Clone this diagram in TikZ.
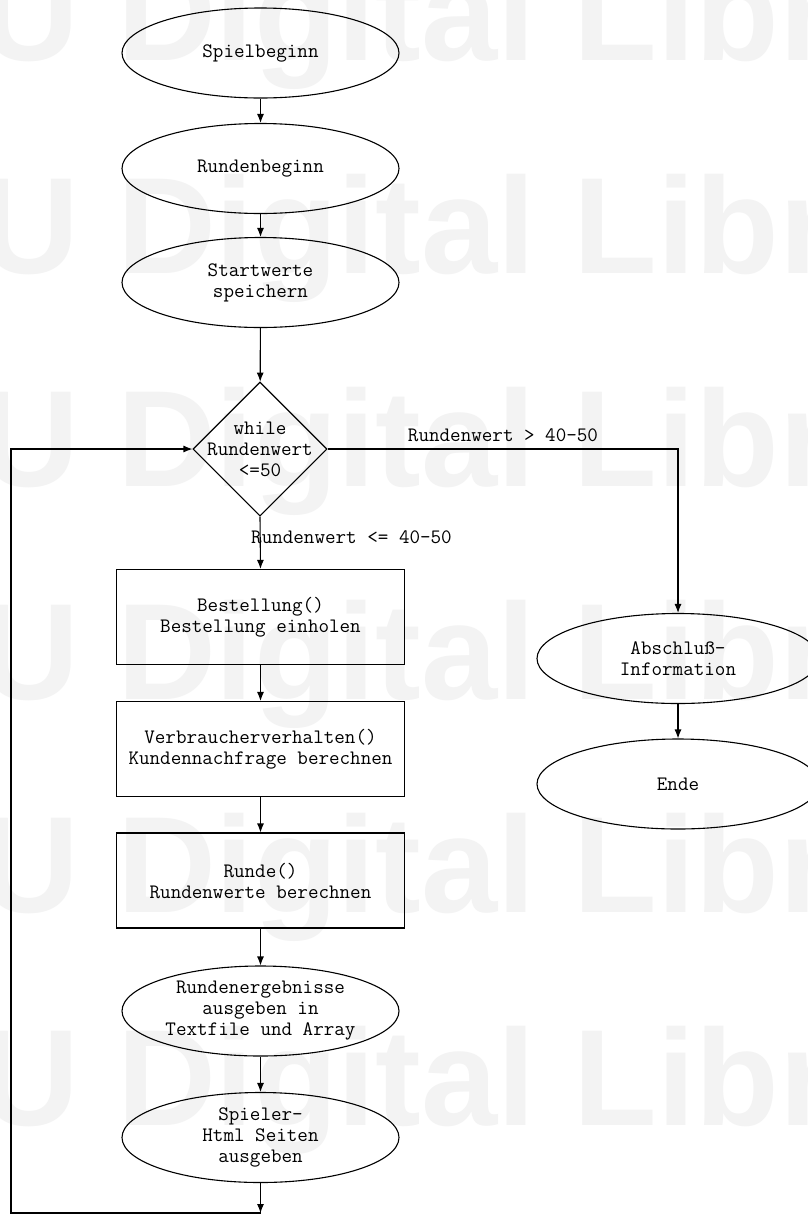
\documentclass[tikz,border=0pt]{standalone}
\usepackage{fontspec}
\newfontfamily\wmfont{Liberation Sans}
\usetikzlibrary{shapes.geometric,arrows.meta}
\definecolor{wm}{RGB}{243,243,243}
\tikzset{
  txt/.style={font=\ttfamily\fontsize{20.5}{21}\selectfont},
  ell/.style={draw, ellipse, minimum width=277pt, minimum height=90pt, inner sep=0pt, line width=1.1pt},
  procbox/.style={draw, rectangle, minimum width=288pt, minimum height=95pt, inner sep=0pt, align=center, line width=1.1pt, txt},
  dia/.style={draw, diamond, minimum width=134pt, minimum height=134pt, inner sep=0pt, line width=1.1pt},
  lab/.style={align=center, inner sep=0pt, txt},
  arr/.style={line width=1.1pt, -{Latex[length=9pt,width=7pt]}},
  wmark/.style={anchor=base west, inner sep=0pt, text=wm, font=\wmfont\bfseries\fontsize{137}{137}\selectfont}
}
\begin{document}
\begin{tikzpicture}[x=1pt,y=-1pt]
\useasboundingbox (0,0) rectangle (808,1216);
\clip (0,0) rectangle (808,1216);
\fill[white] (0,0) rectangle (808,1216);
% watermark
\foreach \yy [count=\i] in {60,273,486,699,912,1125}
  \node[wmark] (wm\i) at (-20,\yy) {U Digital Libr};
% main column
\node[ell, label={[lab]center:Spielbeginn}] (s1) at (260.5,53) {};
\node[ell, label={[lab]center:Rundenbeginn}] (s2) at (260.5,168.5) {};
\node[ell, label={[lab]center:{Startwerte\\speichern}}] (s3) at (260.5,282.5) {};
\node[dia, label={[lab]center:{while\\Rundenwert\\<=50}}] (d) at (260,449) {};
\node[procbox] (b1) at (260.5,617) {Bestellung()\\Bestellung einholen};
\node[procbox] (b2) at (260.5,749) {Verbraucherverhalten()\\Kundennachfrage berechnen};
\node[procbox] (b3) at (260.5,880.5) {Runde()\\Rundenwerte berechnen};
\node[ell, label={[lab]center:{Rundenergebnisse\\ausgeben in\\Textfile und Array}}] (e1) at (260.5,1011) {};
\node[ell, label={[lab]center:{Spieler-\\Html Seiten\\ausgeben}}] (e2) at (260.5,1137.5) {};
% right column
\node[ell, minimum width=282pt, label={[lab]center:{Abschluß-\\Information}}] (a1) at (678,658.5) {};
\node[ell, minimum width=282pt, label={[lab]center:Ende}] (a2) at (678,784) {};
% connector labels
\node[lab, anchor=center] (l1) at (503,435) {Rundenwert > 40-50};
\node[lab, anchor=west] (l2) at (251,537) {Rundenwert <= 40-50};
% connectors
\draw[arr] (s1) -- (s2);
\draw[arr] (s2) -- (s3);
\draw[arr] (s3) -- (d);
\draw[arr] (d.south) -- (b1.north);
\draw[arr] (b1) -- (b2);
\draw[arr] (b2) -- (b3);
\draw[arr] (b3) -- (e1);
\draw[arr] (e1) -- (e2);
\coordinate (bl) at (260.5,1213);
\coordinate (lb) at (11,1213);
\coordinate (lt) at (11,449);
\draw[arr] (e2) -- (bl);
\draw[arr] (bl) -- (lb) -- (lt) -- (d.west);
\draw[arr] (d.east) -| (a1.north);
\draw[arr] (a1) -- (a2);
\end{tikzpicture}
\end{document}
